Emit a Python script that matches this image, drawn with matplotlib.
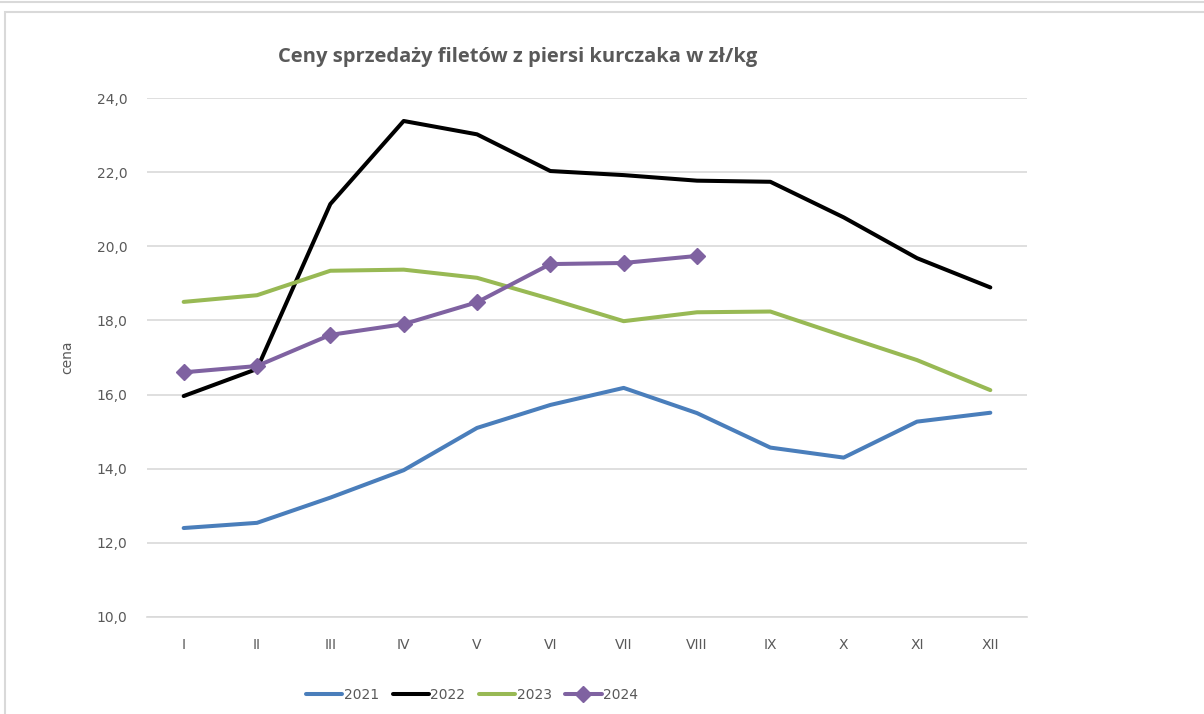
import matplotlib
matplotlib.use("Agg")
import matplotlib.pyplot as plt
from matplotlib.patches import Rectangle
from matplotlib.lines import Line2D

months = ["I", "II", "III", "IV", "V", "VI", "VII", "VIII", "IX", "X", "XI", "XII"]
y2021 = [12.40, 12.54, 13.22, 13.96, 15.10, 15.72, 16.18, 15.50, 14.57, 14.30, 15.27, 15.51]
y2022 = [15.96, 16.69, 21.14, 23.38, 23.02, 22.03, 21.92, 21.77, 21.74, 20.78, 19.68, 18.89]
y2023 = [18.50, 18.68, 19.34, 19.37, 19.15, 18.58, 17.98, 18.22, 18.24, 17.58, 16.93, 16.12]
y2024 = [16.60, 16.77, 17.61, 17.90, 18.49, 19.52, 19.55, 19.74]
series_names = ["2021", "2022", "2023", "2024"]
yticks = [10, 12, 14, 16, 18, 20, 22, 24]

W, H = 1204, 714
fig = plt.figure(figsize=(W / 100, H / 100), dpi=100)
fig.patch.set_facecolor("white")

# outer frames
fig.add_artist(Line2D([0, 1], [1 - 1.5 / H, 1 - 1.5 / H], transform=fig.transFigure,
                      color="#d9d9d9", lw=1.5))
fig.add_artist(Rectangle((5 / W, -0.05), 1.2, 1 - 12 / H + 0.05, transform=fig.transFigure,
                         fill=False, edgecolor="#d9d9d9", lw=1.5))

left, right, top, bottom = 147, 1027, 98, 617
ax = fig.add_axes([left / W, 1 - bottom / H, (right - left) / W, (bottom - top) / H])

x = list(range(len(months)))
lw = 2.9
ax.plot(x, y2021, color="#4a7ebb", lw=lw, label=series_names[0], solid_capstyle="round")
ax.plot(x, y2022, color="#000000", lw=lw, label=series_names[1], solid_capstyle="round")
ax.plot(x, y2023, color="#98b954", lw=lw, label=series_names[2], solid_capstyle="round")
ax.plot(x[:len(y2024)], y2024, color="#7f62a1", lw=lw, marker="D", markersize=8,
        label=series_names[3], solid_capstyle="round")

ax.set_xlim(-0.5, len(months) - 0.5)
ax.set_ylim(10, 24)
ax.set_yticks(yticks)
ax.set_yticklabels([f"{v:.1f}".replace(".", ",") for v in yticks])
ax.set_xticks(x)
ax.set_xticklabels(months)
ax.yaxis.grid(True, color="#d9d9d9", lw=1.2)
ax.set_axisbelow(True)
for s in ["top", "right", "left"]:
    ax.spines[s].set_visible(False)
ax.spines["bottom"].set_color("#d9d9d9")
ax.spines["bottom"].set_linewidth(1.2)
ax.tick_params(axis="both", length=0, colors="#595959", labelsize=10)
ax.tick_params(axis="y", pad=14)
ax.tick_params(axis="x", pad=15)

ax.set_ylabel("cena", color="#595959", fontsize=10)
ax.yaxis.set_label_coords((74 - left) / (right - left), 0.5)

fig.text(518 / W, 1 - 57 / H, "Ceny sprzedaży filetów z piersi kurczaka w zł/kg",
         ha="center", va="center", fontsize=14.5, fontweight="bold", color="#595959",
         family="Open Sans")

leg = fig.legend(loc="center", bbox_to_anchor=(472 / W, 1 - 695 / H), ncol=4, frameon=False,
                 fontsize=10, handlelength=2.6, handletextpad=0.1, columnspacing=1.0,
                 labelcolor="#595959")

fig.savefig("out.png", dpi=100, facecolor="white")
